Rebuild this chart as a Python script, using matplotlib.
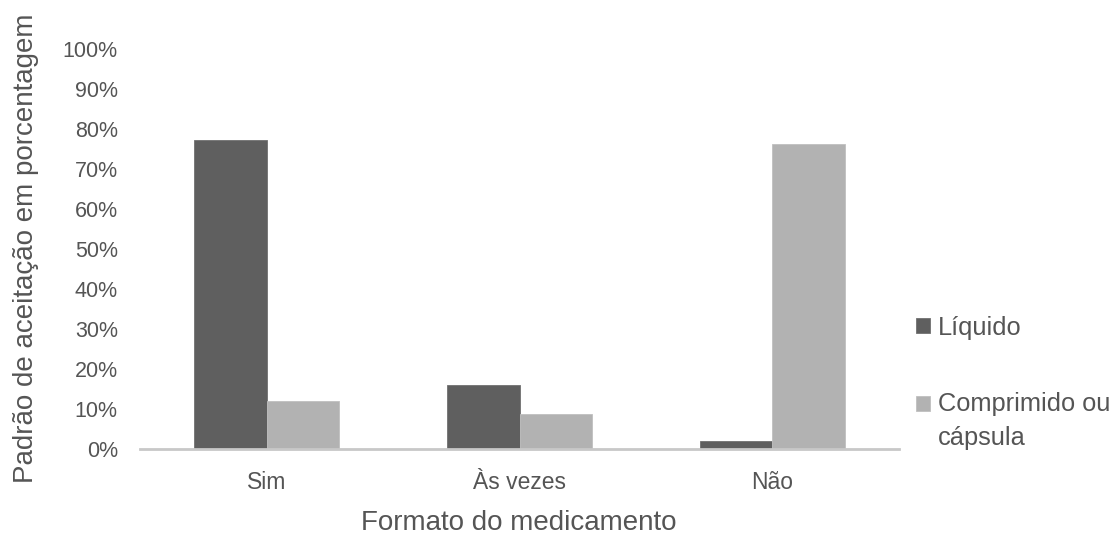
import matplotlib
matplotlib.use("Agg")
import matplotlib.pyplot as plt
import numpy as np

categories = ["Sim", "Às vezes", "Não"]
series_names = ["Líquido", "Comprimido ou\ncápsula"]
liquido = [77.3, 16.1, 1.9]
comprimido = [12.1, 8.8, 76.3]
y_ticks = [0, 10, 20, 30, 40, 50, 60, 70, 80, 90, 100]
colors = ["#5f5f5f", "#b2b2b2"]

plt.rcParams['font.family'] = ['Liberation Sans', 'DejaVu Sans']
text_color = "#555555"

fig = plt.figure(figsize=(11.16, 5.36), dpi=100)
W, H = 1116, 536
ax = fig.add_axes([140 / W, 1 - 449 / H, (899 - 140) / W, 400 / H])

x = np.arange(len(categories))
bw = 0.287
ax.bar(x - bw / 2, liquido, bw, color=colors[0], edgecolor="#707070", linewidth=0.6, label=series_names[0])
ax.bar(x + bw / 2, comprimido, bw, color=colors[1], edgecolor="#c0c0c0", linewidth=0.6, label=series_names[1])

ax.set_xlim(-0.5, 2.5)
ax.set_ylim(0, 100)
ax.set_yticks(y_ticks)
ax.set_yticklabels([f"{v}%" for v in y_ticks], fontsize=15.5, color=text_color)
ax.set_xticks(x)
ax.set_xticklabels(categories, fontsize=16.5, color=text_color)
ax.tick_params(axis='both', length=0)
ax.tick_params(axis='y', pad=16)
ax.tick_params(axis='x', pad=16)
for s in ["top", "right", "left"]:
    ax.spines[s].set_visible(False)
ax.spines["bottom"].set_color("#c8c8c8")
ax.spines["bottom"].set_linewidth(2)

fig.text(519 / W, 1 - 523 / H, "Formato do medicamento", fontsize=20, color=text_color,
         ha="center", va="center")
fig.text(26 / W, 1 - 248 / H, "Padrão de aceitação em porcentagem", rotation=90,
         fontsize=20, color=text_color, ha="center", va="center")

leg = ax.legend(loc="center left", bbox_to_anchor=(916 / W, 1 - 383 / H), bbox_transform=fig.transFigure,
                frameon=False, fontsize=18.3, handlelength=0.55, handleheight=0.55, handletextpad=0.3,
                labelspacing=2.05, borderpad=0, borderaxespad=0)
for t in leg.get_texts():
    t.set_color(text_color)
    t.set_linespacing(1.55)
# align the second legend square with the first line of its two-line label
h2 = leg.legend_handles[1]
h2.set_y(h2.get_y() + 13.0)

fig.savefig("out.png", dpi=100, facecolor="white")
